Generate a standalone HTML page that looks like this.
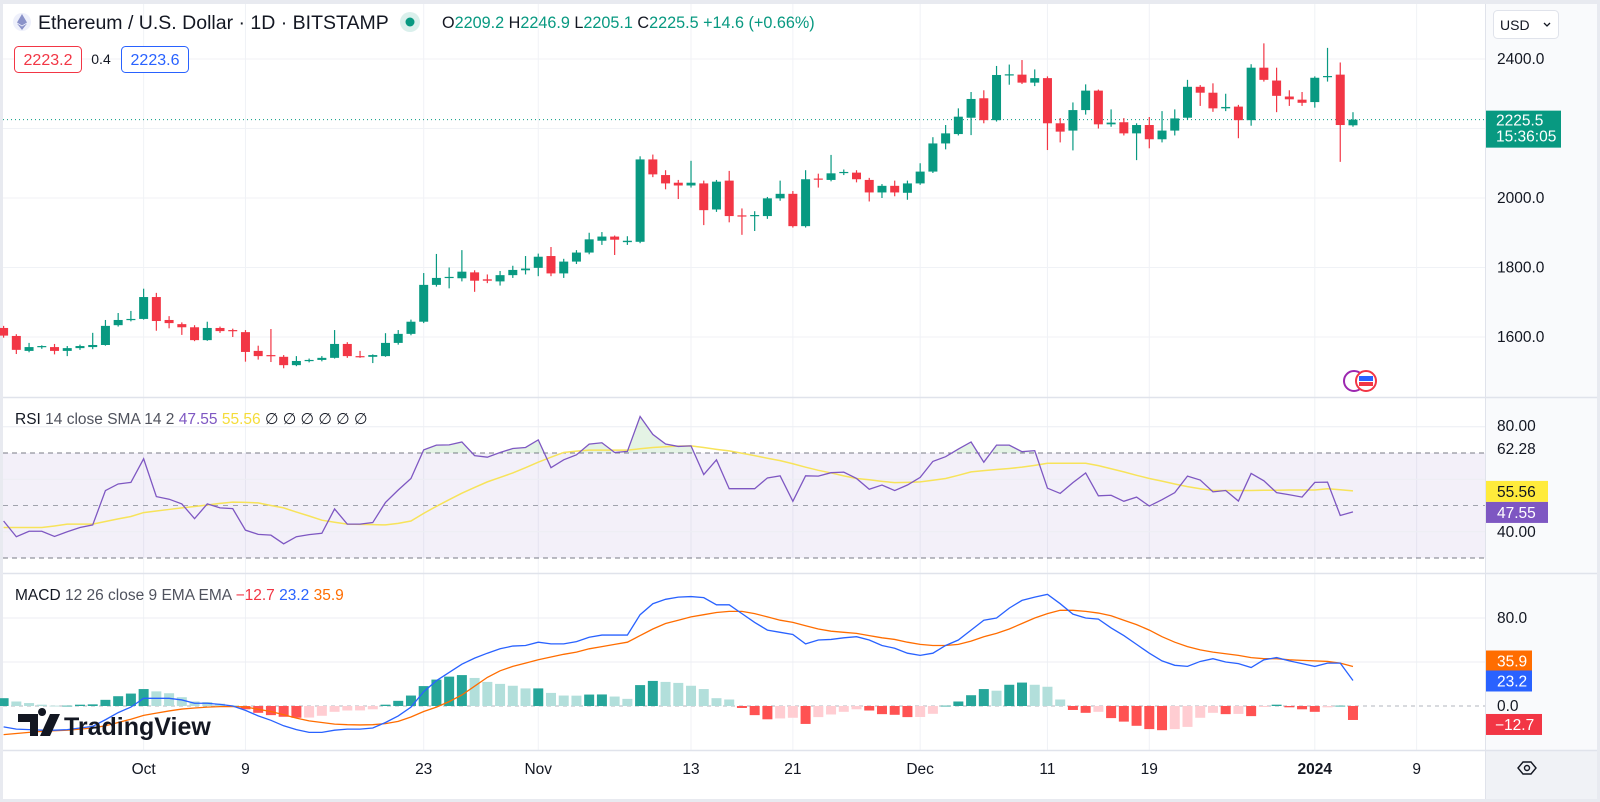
<!DOCTYPE html>
<html><head><meta charset="utf-8"><style>
html,body{margin:0;padding:0;width:1600px;height:802px;overflow:hidden;background:#fff;font-family:"Liberation Sans",sans-serif;}
svg{display:block}
</style></head><body>
<svg id="chart" width="1600" height="802" viewBox="0 0 1600 802" xmlns="http://www.w3.org/2000/svg" font-family="Liberation Sans, sans-serif">
<rect x="0" y="0" width="1600" height="802" fill="#e8eaf0"/>
<rect x="3" y="4" width="1594" height="795" fill="#ffffff"/>
<rect x="1486" y="4" width="111" height="795" fill="#f9fafc"/>
<rect x="1486" y="751" width="111" height="48" fill="#f0f2f6"/>
<g id="grid"></g>
<g id="price"></g>
<g id="rsi"></g>
<g id="macd"></g>
<g id="axes"></g>
<g>
 <circle cx="22" cy="22" r="9" fill="#eef0fb"/>
 <path d="M22 14 L27 22.5 L22 25.5 L17 22.5 Z M22 26.5 L27 23.5 L22 30 L17 23.5 Z" fill="#8a92c9"/>
 <text x="38" y="29" font-size="19.5" fill="#131722">Ethereum / U.S. Dollar · 1D · BITSTAMP</text>
 <circle cx="410" cy="22" r="10" fill="#089981" fill-opacity="0.15"/>
 <circle cx="410" cy="22" r="4.5" fill="#089981"/>
 <text x="442" y="28" font-size="16.2" fill="#089981"><tspan fill="#131722">O</tspan>2209.2 <tspan fill="#131722">H</tspan>2246.9 <tspan fill="#131722">L</tspan>2205.1 <tspan fill="#131722">C</tspan>2225.5 +14.6 (+0.66%)</text>
 <rect x="14.5" y="46.5" width="67" height="26" rx="4" fill="#fff" stroke="#f23645"/>
 <text x="48" y="65" font-size="16" fill="#f23645" text-anchor="middle">2223.2</text>
 <text x="101" y="64" font-size="14" fill="#131722" text-anchor="middle">0.4</text>
 <rect x="121.5" y="46.5" width="67" height="26" rx="4" fill="#fff" stroke="#2962ff"/>
 <text x="155" y="65" font-size="16" fill="#2962ff" text-anchor="middle">2223.6</text>
</g>
<g>
 <text x="15" y="424" font-size="15.5" fill="#131722">RSI <tspan fill="#50535e">14 close SMA 14 2</tspan> <tspan fill="#7e57c2">47.55</tspan> <tspan fill="#f5dc3a">55.56</tspan> <tspan fill="#131722">∅ ∅ ∅ ∅ ∅ ∅</tspan></text>
</g>
<g>
 <text x="15" y="600" font-size="15.5" fill="#131722">MACD <tspan fill="#50535e">12 26 close 9 EMA EMA</tspan> <tspan fill="#f23645">−12.7</tspan> <tspan fill="#2962ff">23.2</tspan> <tspan fill="#ff6d00">35.9</tspan></text>
</g>
<g>
 <path d="M18 714 h20 v22 h-8 v-14 h-12 z M42 716 a4 4 0 1 1 0.1 0 z M50 714 h10 l-10 22 h-10 z" fill="#131722"/>
 <text x="64" y="735" font-size="25" font-weight="bold" fill="#131722">TradingView</text>
</g>
<g>
 <rect x="1493.5" y="10.5" width="65" height="28" rx="4" fill="#fff" stroke="#e0e3eb"/>
 <text x="1500" y="30" font-size="14" fill="#131722">USD</text>
 <path d="M1544 23 l3 3 l3 -3" stroke="#131722" fill="none" stroke-width="1.3"/>
</g>
<g>
 <path d="M1518 768 l5 -6 h8 l5 6 l-5 6 h-8 z" fill="none" stroke="#131722" stroke-width="1.4"/>
 <circle cx="1527" cy="768" r="2.5" fill="none" stroke="#131722" stroke-width="1.4"/>
</g>
<g>
 <circle cx="1354" cy="381" r="10" fill="#fff" stroke="#9c27b0" stroke-width="2"/>
 <circle cx="1366" cy="381" r="10" fill="#fff" stroke="#f23645" stroke-width="2"/>
 <rect x="1359" y="376" width="14" height="5" fill="#2962ff"/>
 <rect x="1359" y="382" width="14" height="4" fill="#f23645"/>
</g>
</svg>
<script>
const opens=[1626,1603,1560,1572,1571,1560,1568,1571,1577,1634,1649,1652,1715,1649,1637,1628,1591,1626,1620,1614,1560,1548,1543,1519,1531,1534,1540,1580,1545,1543,1545,1583,1609,1644,1750,1770,1769,1786,1766,1760,1778,1792,1799,1833,1783,1817,1843,1877,1889,1873,1874,2111,2066,2044,2036,2042,1967,2050,1950,1948,1948,1999,2012,1919,2056,2052,2072,2073,2052,2016,2035,2015,2042,2076,2157,2184,2231,2287,2224,2354,2355,2332,2345,2215,2194,2253,2309,2212,2218,2186,2210,2169,2194,2231,2320,2303,2258,2263,2224,2375,2338,2292,2283,2276,2348,2355,2209.2];
const highs=[1632,1608,1583,1576,1580,1574,1578,1612,1649,1669,1675,1739,1727,1660,1642,1634,1644,1630,1624,1620,1575,1623,1548,1545,1538,1545,1620,1585,1560,1550,1611,1620,1650,1784,1839,1800,1850,1792,1780,1790,1805,1833,1840,1859,1825,1850,1900,1902,1892,1890,2120,2125,2080,2052,2107,2050,2052,2078,1970,1962,2003,2050,2020,2080,2070,2124,2082,2080,2058,2040,2050,2050,2100,2175,2210,2258,2305,2310,2380,2384,2397,2370,2350,2230,2275,2327,2312,2255,2230,2215,2233,2250,2255,2340,2325,2330,2300,2268,2385,2445,2375,2310,2305,2350,2432,2390,2246.9];
const lows=[1598,1551,1556,1566,1550,1545,1563,1565,1575,1630,1645,1650,1618,1625,1606,1588,1589,1612,1600,1529,1535,1528,1510,1516,1527,1530,1538,1540,1540,1525,1543,1578,1605,1640,1745,1740,1760,1730,1755,1748,1770,1780,1775,1775,1770,1810,1838,1865,1836,1865,1870,2060,2025,1997,2030,1922,1960,1930,1894,1905,1940,1992,1915,1915,2030,2048,2066,2045,1990,2000,2005,1995,2038,2072,2140,2180,2181,2215,2220,2326,2328,2322,2138,2160,2137,2240,2200,2205,2180,2109,2143,2160,2180,2225,2265,2248,2250,2172,2208,2335,2247,2265,2265,2260,2335,2104,2205.1];
const closes=[1604,1563,1571,1574,1560,1568,1574,1577,1632,1649,1652,1715,1646,1640,1628,1591,1626,1617,1617,1557,1545,1545,1519,1531,1534,1540,1580,1545,1543,1548,1583,1609,1644,1750,1770,1773,1788,1762,1762,1778,1793,1797,1831,1783,1817,1843,1881,1889,1880,1877,2111,2068,2042,2036,2044,1965,2047,1948,1948,1951,1999,2012,1919,2054,2054,2071,2075,2054,2016,2035,2016,2042,2076,2157,2186,2234,2285,2224,2354,2356,2332,2345,2215,2191,2253,2309,2212,2217,2186,2210,2169,2194,2229,2320,2303,2258,2262,2224,2375,2340,2294,2284,2274,2346,2351,2210,2225.5];
const rsiValues=[44.1,38.1,40.2,40.2,38.2,40.0,41.6,42.6,55.7,58.2,58.8,67.8,53.4,52.4,50.6,45.0,50.6,49.1,48.8,40.6,39.0,38.7,35.4,38.1,38.9,39.4,48.7,42.9,42.9,43.5,51.2,55.9,60.3,71.2,73.0,73.1,74.2,69.0,68.4,70.2,71.7,72.1,75.0,64.4,67.4,69.3,73.4,73.9,70.2,70.6,83.9,77.1,73.4,72.5,72.7,61.8,67.4,56.4,56.4,56.4,60.5,61.3,51.6,61.3,61.2,62.5,62.7,60.3,56.2,57.8,55.7,57.8,60.7,66.8,68.6,71.5,74.2,66.5,73.0,73.0,70.5,70.9,56.6,54.6,58.7,62.4,53.7,53.9,51.6,53.2,49.8,52.2,54.9,61.2,59.7,55.2,55.7,51.7,62.2,59.4,54.9,54.1,53.2,58.8,58.9,46.2,47.55];
const rsiSma=[41.6,41.6,41.6,41.6,42.2,42.9,42.9,42.9,43.9,44.9,45.8,47.3,47.9,48.5,49.1,49.6,50.2,50.8,51.3,51.2,51.0,50.0,49.1,47.5,46.0,44.4,43.6,42.9,42.8,42.7,42.6,43.2,44.1,47.0,49.7,52.2,54.7,56.9,59.0,60.7,62.4,64.4,66.5,68.4,70.2,70.7,71.1,71.1,71.1,71.1,71.6,72.1,72.4,72.6,72.7,72.1,71.4,70.8,69.9,69.0,68.0,67.1,65.9,64.6,63.4,62.4,61.3,60.3,59.8,59.2,58.7,58.8,59.0,59.6,60.3,61.5,62.8,63.3,63.7,64.1,64.6,65.3,66.1,66.1,66.1,66.1,65.2,64.0,62.8,61.5,60.3,59.3,58.2,57.2,56.4,55.7,55.7,55.7,55.7,55.8,55.8,55.9,55.9,55.9,56.4,56.0,55.56];
const macdLine=[-19,-21,-21.5,-22,-22,-21.5,-20,-18.5,-12.5,-6,-1,7,7,7,5.5,2.5,2.5,1.5,0,-4,-9,-13,-18,-21.5,-24,-24,-22,-21,-21,-20,-15,-9,-1,13,23,30.5,38,43.5,48,52,54.5,55,58,56.5,56.5,58.5,62.5,64.5,64.5,64.5,83,93,97,99,99.5,98.5,92,92,84,76,69,67,65,56.5,60,60.5,62,63,60,55,52.5,48,46,48,55,60,69,78,80,89,96,99,101.5,93,83.5,80,79,71,64,56,48,41,37,36,40.5,43,40,38.5,35,42,44,41,38.5,36,39,39,23.2];
const signalLine=[-26,-25,-24,-23,-22.5,-22,-21,-20,-18,-15,-12,-8.5,-6.5,-4.5,-2.8,-1.8,-1,-0.6,-0.5,-0.8,-3,-5,-8,-11,-13.5,-15,-16.5,-17,-17.2,-17,-16,-14,-10,-5,-1,4,10,18,26,32,36,39,42,44.5,47,49,52,54,56,58,64,70,75,78,81,83,85,86,86,84,81,78,76,73,70,68,67,66,64,62,60.5,58,56,55,55,56,59,63,66,70,75,80,84,87,87,86,84.5,82,78,74,69,63,58,54,51,49,47.5,46,44,43,43,42,41.5,41,40.5,39,35.9];
const histValues=[7.1,4.1,2.7,1.2,0.3,0.3,1.2,1.5,5.6,8.9,11.3,15.4,13.3,11.6,8.0,4.1,3.6,2.1,0.6,-3.0,-6.2,-8.3,-9.8,-10.7,-10.5,-8.9,-5.3,-4.1,-4.0,-3.0,1.2,4.7,9.5,18.1,24.0,26.7,28.1,25.5,21.9,20.1,18.4,16.0,16.0,11.9,9.5,9.4,10.4,10.5,8.6,6.5,19.0,22.8,21.9,21.0,18.4,15.4,7.1,5.9,-1.8,-8.3,-12.1,-11.3,-10.7,-16.3,-10.1,-7.7,-5.3,-3.0,-4.1,-7.4,-8.0,-10.1,-10.0,-7.1,0.3,4.1,9.8,15.4,13.9,19.3,21.3,19.3,17.5,5.9,-3.6,-6.2,-5.3,-11.0,-14.2,-18,-21,-22,-21,-19,-10.7,-6.2,-7.4,-7.2,-9.2,-0.9,1.2,-1.2,-3.0,-5.3,-1.2,0.3,-12.7];
const tickLabels=["Oct","9","23","Nov","13","21","Dec","11","19","2024","9"];
const tickIndex=[11,19,33,42,54,62,72,82,90,103,111];
const priceTicks=[1600,1800,2000,2200,2400];
const priceTickLabels=["1600.0","1800.0","2000.0","","2400.0"];
const rsiGrid=[40,60,80];
const macdGrid=[0,40,80];

const NS="http://www.w3.org/2000/svg";
function mk(parent,tag,attrs,txt){const e=document.createElementNS(NS,tag);for(const k in attrs)e.setAttribute(k,attrs[k]);if(txt!==undefined)e.textContent=txt;parent.appendChild(e);return e;}
const xOf=i=>3.6+i*12.73;
const yP=p=>198-(p-2000)*0.3475;
const yR=v=>505.5-(v-50)*2.625;
const yM=v=>706-v*1.1;
const PLOT_R=1485;
const FS=15.5;
const G=document.getElementById('grid'),P=document.getElementById('price'),R=document.getElementById('rsi'),M=document.getElementById('macd'),A=document.getElementById('axes');

tickIndex.forEach((ti,k)=>{
 const x=xOf(ti);
 const l=mk(G,'line',{x1:x,y1:4,x2:x,y2:750,stroke:'#f0f2f6','stroke-width':1});
 
 
 const t=mk(A,'text',{x:x,y:774,'font-size':FS,'text-anchor':'middle',fill:'#131722','font-weight':tickLabels[k]==='2024'?'bold':'normal'},tickLabels[k]);
 
 
});
priceTicks.forEach((p,k)=>{
 const y=yP(p);
 const l=mk(G,'line',{x1:3,y1:y,x2:PLOT_R,y2:y,stroke:'#f0f2f6','stroke-width':1});
 
 
 if(priceTickLabels[k]){
  const t=mk(A,'text',{x:1497,y:y+5,'font-size':FS,fill:'#131722'},priceTickLabels[k]);
  
  
 }
});
[397,573,750].forEach(y=>{
 const l=mk(G,'line',{x1:3,y1:y+0.5,x2:1597,y2:y+0.5,stroke:'#e0e3eb','stroke-width':1.5});
 
 
});
const vsep=mk(G,'line',{x1:PLOT_R+0.5,y1:4,x2:PLOT_R+0.5,y2:799,stroke:'#e0e3eb'});



const last=closes[closes.length-1];
const cpl=mk(P,'line',{x1:3,y1:yP(last),x2:PLOT_R,y2:yP(last),stroke:'#089981','stroke-dasharray':'1 3','stroke-width':1});



for(let i=0;i<opens.length;i++){
 const up=closes[i]>=opens[i];const col=up?'#089981':'#f23645';const x=xOf(i);
 const w=mk(P,'line',{x1:x,y1:yP(highs[i]),x2:x,y2:yP(lows[i]),stroke:col,'stroke-width':1.2});
 
 
 const top=yP(Math.max(opens[i],closes[i])),bot=yP(Math.min(opens[i],closes[i]));
 const b=mk(P,'rect',{x:x-4.5,y:top,width:9,height:Math.max(1.2,bot-top),fill:col});
 
 
}
const tag=mk(A,'rect',{x:1486,y:yP(last)-9,width:75,height:37,fill:'#089981'});


const tg1=mk(A,'text',{x:1496,y:yP(last)+6,'font-size':FS,fill:'#fff'},last.toFixed(1));


const tg2=mk(A,'text',{x:1496,y:yP(last)+22,'font-size':FS,fill:'#fff'},'15:36:05');



const band=mk(R,'rect',{x:3,y:yR(70),width:PLOT_R-3,height:yR(30)-yR(70),fill:'#7e57c2','fill-opacity':0.09});


rsiGrid.forEach(v=>{
 const l=mk(R,'line',{x1:3,y1:yR(v),x2:PLOT_R,y2:yR(v),stroke:'#eceef3'});
 
 
});
[[70,'#787b86','5 4'],[50,'#a0a3ad','5 5'],[30,'#787b86','5 4']].forEach(d=>{
 const l=mk(R,'line',{x1:3,y1:yR(d[0]),x2:PLOT_R,y2:yR(d[0]),stroke:d[1],'stroke-dasharray':d[2]});
 
 
});
const defs=mk(R,'defs',{});
const cp=mk(defs,'clipPath',{id:'ob'});
mk(cp,'rect',{x:0,y:397,width:1600,height:yR(70)-397});
let poly='M'+xOf(0)+' '+yR(70);
rsiValues.forEach((v,i)=>{poly+=' L'+xOf(i)+' '+yR(v);});
poly+=' L'+xOf(rsiValues.length-1)+' '+yR(70)+' Z';
const ob=mk(R,'path',{d:poly,fill:'#4caf50','fill-opacity':0.15,'clip-path':'url(#ob)'});


const sma=mk(R,'polyline',{points:rsiSma.map((v,i)=>xOf(i)+','+yR(v)).join(' '),fill:'none',stroke:'#f7e35a','stroke-width':1.5});


const rl=mk(R,'polyline',{points:rsiValues.map((v,i)=>xOf(i)+','+yR(v)).join(' '),fill:'none',stroke:'#7e57c2','stroke-width':1.3});


[['80.00',426],['62.28',449],['51.58',490],['40.00',532]].forEach(d=>{
 const t=mk(A,'text',{x:1497,y:d[1]+5,'font-size':FS,fill:'#131722'},d[0]);
 
 
});
const ysTag=mk(A,'rect',{x:1486,y:yR(rsiSma[rsiSma.length-1])-10,width:62,height:21,fill:'#ffeb3b'});


const ysT=mk(A,'text',{x:1497,y:yR(rsiSma[rsiSma.length-1])+6,'font-size':FS,fill:'#131722'},rsiSma[rsiSma.length-1].toFixed(2));


const rTag=mk(A,'rect',{x:1486,y:yR(rsiValues[rsiValues.length-1])-10,width:62,height:21,fill:'#7e57c2'});


const rT=mk(A,'text',{x:1497,y:yR(rsiValues[rsiValues.length-1])+6,'font-size':FS,fill:'#fff'},rsiValues[rsiValues.length-1].toFixed(2));



macdGrid.forEach(v=>{
 const l=mk(M,'line',{x1:3,y1:yM(v),x2:PLOT_R,y2:yM(v),stroke:v===0?'#b2b5be':'#eceef3','stroke-dasharray':v===0?'4 4':'none'});
 
 
});
for(let i=0;i<histValues.length;i++){
 const v=histValues[i],pv=i>0?histValues[i-1]:v;
 let col;
 if(v>=0)col=(v>=pv)?'#26a69a':'#b2dfdb';else col=(v<=pv)?'#ff5252':'#ffcdd2';
 const y0=yM(0),y1=yM(v);
 const b=mk(M,'rect',{x:xOf(i)-5,y:Math.min(y0,y1),width:10,height:Math.max(0.8,Math.abs(y1-y0)),fill:col});
 
 
}
const sig=mk(M,'polyline',{points:signalLine.map((v,i)=>xOf(i)+','+yM(v)).join(' '),fill:'none',stroke:'#ff6d00','stroke-width':1.3});


const ml=mk(M,'polyline',{points:macdLine.map((v,i)=>xOf(i)+','+yM(v)).join(' '),fill:'none',stroke:'#2962ff','stroke-width':1.3});


[['80.0',80],['0.0',0]].forEach(d=>{
 const t=mk(A,'text',{x:1497,y:yM(d[1])+5,'font-size':FS,fill:'#131722'},d[0]);
 
 
});
const lastSig=signalLine[signalLine.length-1],lastM=macdLine[macdLine.length-1],lastH=histValues[histValues.length-1];
const oT=mk(A,'rect',{x:1486,y:yM(lastSig)-16,width:46,height:21,fill:'#ff6d00'});


const oTx=mk(A,'text',{x:1497,y:yM(lastSig),'font-size':FS,fill:'#fff'},lastSig.toFixed(1));


const bT=mk(A,'rect',{x:1486,y:yM(lastM)-10,width:46,height:21,fill:'#2962ff'});


const bTx=mk(A,'text',{x:1497,y:yM(lastM)+6,'font-size':FS,fill:'#fff'},lastM.toFixed(1));


const hT=mk(A,'rect',{x:1486,y:yM(lastH)-6,width:56,height:21,fill:'#f23645'});


const hTx=mk(A,'text',{x:1495,y:yM(lastH)+10,'font-size':FS,fill:'#fff'},'−'+Math.abs(lastH).toFixed(1));


</script>
</body></html>
